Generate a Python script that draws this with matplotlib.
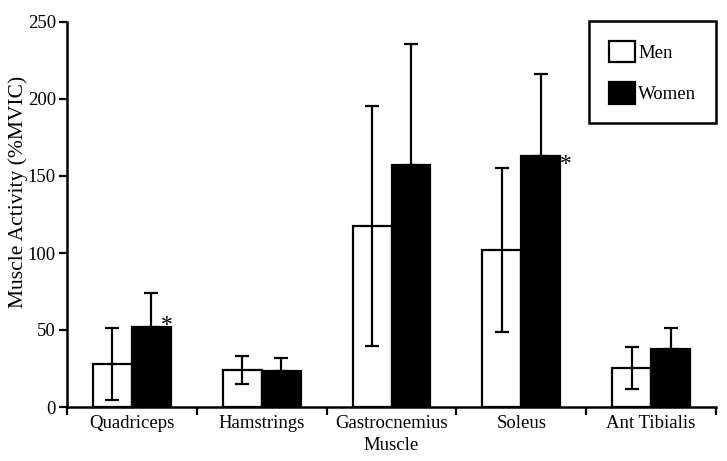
import numpy as np
import matplotlib.pyplot as plt
from matplotlib.patches import Patch

muscles = ["Quadriceps", "Hamstrings", "Gastrocnemius", "Soleus", "Ant Tibialis"]
men = [28, 24, 117.5, 102, 25.5]
men_err = [23.5, 9, 78, 53.5, 13.7]
women = [52, 23.5, 157, 163, 37.5]
women_err = [22, 8, 79, 53, 14]
# muscles where women differ significantly (asterisk)
signif = ["Quadriceps", "Soleus"]

plt.rcParams['font.family'] = ['Liberation Serif', 'DejaVu Serif']
plt.rcParams['font.size'] = 13.5

fig = plt.figure(figsize=(7.27, 4.61), dpi=100)
ax = fig.add_axes([67 / 727, 1 - 407 / 461, 649 / 727, 385 / 461])

x = np.arange(len(muscles)) + 0.5
w = 0.3
lw = 1.6

ax.bar(x - w / 2, men, w, color="white", edgecolor="black", linewidth=lw, zorder=2)
ax.bar(x + w / 2, women, w, color="black", edgecolor="black", linewidth=lw, zorder=2)
ax.errorbar(x - w / 2, men, yerr=men_err, fmt="none", ecolor="black",
            elinewidth=1.6, capsize=5, capthick=1.6, zorder=3)
ax.errorbar(x + w / 2, women, yerr=[np.zeros(len(women)), women_err], fmt="none",
            ecolor="black", elinewidth=1.6, capsize=5, capthick=1.6, zorder=3)

# asterisk positions, offsets in points from the bar's top-right corner
star_off = {"Quadriceps": (-3, 1), "Soleus": (4, -6)}
for m in signif:
    i = muscles.index(m)
    ax.annotate("*", (x[i] + w, women[i]), xytext=star_off[m], textcoords="offset points",
                ha="center", va="center", fontsize=17)

ax.set_xlim(0, len(muscles))
ax.set_ylim(0, 250)
ax.set_xticks(np.arange(len(muscles) + 1))
ax.set_xticklabels([])
ax.set_xticks(x, minor=True)
ax.set_xticklabels(muscles, minor=True)
ax.tick_params(axis="x", which="minor", length=0, pad=6)
ax.tick_params(axis="x", which="major", length=6, width=1.6, direction="out")
ax.set_yticks([0, 50, 100, 150, 200, 250])
ax.tick_params(axis="y", length=6, width=1.6, direction="out", pad=2)

for s in ["top", "right"]:
    ax.spines[s].set_visible(False)
for s in ["left", "bottom"]:
    ax.spines[s].set_linewidth(1.8)

ax.set_xlabel("Muscle", labelpad=3)
ax.set_ylabel("Muscle Activity (%MVIC)", fontsize=15.5, va="center")
ax.yaxis.set_label_coords(-0.075, 0.56)

handles = [Patch(facecolor="white", edgecolor="black", linewidth=lw, label="Men"),
           Patch(facecolor="black", edgecolor="black", linewidth=lw, label="Women")]
leg = ax.legend(handles=handles, loc="upper right", bbox_to_anchor=(1.0, 1.003),
                handlelength=1.4, handleheight=1.4, handletextpad=0.15,
                labelspacing=1.05, borderpad=1.05, borderaxespad=0,
                fancybox=False, framealpha=1, edgecolor="black")
leg.get_frame().set_linewidth(1.8)

fig.savefig("out.png", dpi=100)
